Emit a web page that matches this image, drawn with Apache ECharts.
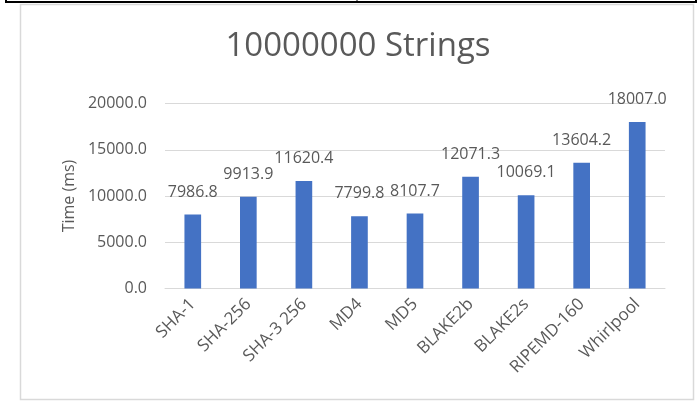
<!DOCTYPE html>
<html>
<head>
<meta charset="utf-8">
<title>10000000 Strings</title>
<script src="https://cdn.jsdelivr.net/npm/echarts@6/dist/echarts.min.js"></script>
<style>
  html, body { margin: 0; padding: 0; background: #ffffff; }
  #chart { width: 699px; height: 401px; }
</style>
</head>
<body>
<div id="chart"></div>
<script>
// Hash algorithms timed over ten million strings
const algorithms = ['SHA-1', 'SHA-256', 'SHA-3 256', 'MD4', 'MD5', 'BLAKE2b', 'BLAKE2s', 'RIPEMD-160', 'Whirlpool'];
const timesMs = [7986.8, 9913.9, 11620.4, 7799.8, 8107.7, 12071.3, 10069.1, 13604.2, 18007.0];
const yTicks = [0, 5000, 10000, 15000, 20000];

const textColor = '#595959';
const fontFamily = '"Open Sans", "Noto Sans", sans-serif';

const chart = echarts.init(document.getElementById('chart'), null, { renderer: 'canvas' });

chart.setOption({
  animation: false,
  backgroundColor: '#ffffff',
  textStyle: { fontFamily: fontFamily },
  graphic: [
    // surrounding table rule and chart frame
    { type: 'rect', shape: { x: 20.5, y: 4.5, width: 673, height: 395 }, style: { fill: 'none', stroke: '#d9d9d9', lineWidth: 1.5 }, silent: true },
    { type: 'line', shape: { x1: 5, y1: 2, x2: 697, y2: 2 }, style: { stroke: '#000000', lineWidth: 2 }, silent: true },
    { type: 'line', shape: { x1: 6, y1: 0, x2: 6, y2: 3 }, style: { stroke: '#000000', lineWidth: 2 }, silent: true },
    { type: 'line', shape: { x1: 357, y1: 0, x2: 357, y2: 3 }, style: { stroke: '#000000', lineWidth: 1 }, silent: true },
    { type: 'line', shape: { x1: 696, y1: 0, x2: 696, y2: 3 }, style: { stroke: '#000000', lineWidth: 2 }, silent: true },
    // chart title
    {
      type: 'text', x: 358, y: 30, silent: true,
      style: { text: '10000000 Strings', textAlign: 'center', textVerticalAlign: 'top', fill: textColor, font: '33px "Open Sans", "Noto Sans", sans-serif' }
    }
  ],
  grid: { left: 165, right: 34, top: 103.5, bottom: 112.5, containLabel: false },
  xAxis: {
    type: 'category',
    data: algorithms,
    axisLine: { show: true, lineStyle: { color: '#d9d9d9', width: 1 } },
    axisTick: { show: false },
    axisLabel: {
      interval: 0, rotate: 45, margin: 13,
      padding: [12, 0, 0, 0],
      color: textColor, fontSize: 17, fontFamily: fontFamily
    }
  },
  yAxis: {
    type: 'value',
    min: yTicks[0],
    max: yTicks[yTicks.length - 1],
    interval: yTicks[1] - yTicks[0],
    name: 'Time (ms)',
    nameLocation: 'middle',
    nameGap: 88,
    nameRotate: 90,
    nameTextStyle: { color: textColor, fontSize: 16, fontFamily: fontFamily },
    axisLine: { show: false },
    axisTick: { show: false },
    splitLine: { lineStyle: { color: '#d9d9d9', width: 1 } },
    axisLabel: {
      margin: 18,
      color: textColor,
      fontSize: 16,
      fontFamily: fontFamily,
      formatter: v => v.toFixed(1)
    }
  },
  series: [{
    type: 'bar',
    barWidth: '30%',
    itemStyle: { color: '#4472C4' },
    label: {
      show: true,
      position: 'top',
      distance: 14.5,
      color: textColor,
      fontSize: 16,
      fontFamily: fontFamily,
      formatter: p => p.value.toFixed(1)
    },
    data: timesMs
  }]
});
</script>
</body>
</html>
